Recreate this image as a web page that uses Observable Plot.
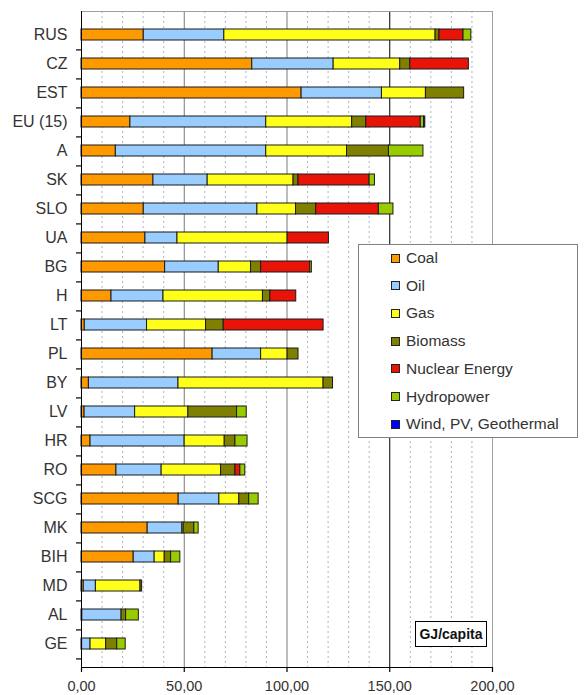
<!DOCTYPE html>
<html><head><meta charset="utf-8">
<script src="https://cdn.jsdelivr.net/npm/d3@7"></script>
<script src="https://cdn.jsdelivr.net/npm/@observablehq/plot@0.6"></script>
<style>
body{margin:0;background:#fff;font-family:"Liberation Sans",Arial,sans-serif;}
#wrap{position:relative;width:585px;height:695px;overflow:hidden;}
#legend{position:absolute;left:358px;top:244px;width:220px;height:194px;border:1px solid #808080;background:#fff;box-sizing:border-box;}
.sw{position:absolute;left:32px;width:9px;height:9px;border:1px solid #222;box-sizing:border-box;}
.lt{position:absolute;left:47px;font-size:15.5px;color:#333;line-height:18px;white-space:nowrap;}
#unit{position:absolute;left:415px;top:621px;width:72px;height:26px;border:1px solid #000;background:#fff;box-sizing:border-box;font-weight:bold;font-size:14px;color:#111;text-align:center;line-height:24px;}
</style></head>
<body><div id="wrap"></div>
<script>
const countries = ["RUS","CZ","EST","EU (15)","A","SK","SLO","UA","BG","H","LT","PL","BY","LV","HR","RO","SCG","MK","BIH","MD","AL","GE"];
const sources = ["Coal","Oil","Gas","Biomass","Nuclear Energy","Hydropower","Wind, PV, Geothermal"];
const colors = ["#FF9900","#99CCFF","#FFFF1A","#808000","#E81408","#99CC00","#0000FF"];
const coal    = [30.3, 83.1, 107.1, 23.8, 16.7, 35.0, 30.3, 31.1, 40.7, 14.6, 1.6, 63.8, 3.6, 1.5, 4.4, 17.0, 47.3, 32.2, 25.4, 1.1, 0.4, 0.3];
const oil     = [39.2, 39.6, 39.1, 66.1, 73.2, 26.4, 55.3, 15.6, 26.1, 25.3, 30.3, 23.6, 43.6, 24.6, 45.8, 22.0, 19.8, 16.9, 10.2, 5.9, 19.1, 4.1];
const gas     = [102.8, 32.4, 21.4, 41.8, 39.3, 41.8, 18.8, 53.6, 15.7, 48.4, 28.7, 12.9, 70.6, 25.9, 19.5, 28.9, 9.7, 0.6, 4.9, 21.7, 0, 7.6];
const biomass = [1.9, 4.9, 18.6, 6.9, 20.4, 2.4, 9.8, 0, 4.9, 3.6, 8.6, 5.3, 4.6, 23.7, 5.2, 7.0, 4.8, 5.2, 3.1, 0.8, 2.2, 5.4];
const nuclear = [11.7, 28.5, 0, 26.5, 0, 34.6, 30.5, 20.1, 23.9, 12.6, 48.6, 0, 0, 0, 0, 2.4, 0, 0, 0, 0, 0, 0];
const hydro   = [3.8, 0, 0, 1.6, 16.8, 2.6, 7.1, 0, 0.8, 0, 0, 0, 0, 4.7, 5.9, 2.4, 4.6, 2.1, 4.5, 0, 6.2, 4.1];
const wind    = [0, 0, 0, 0.6, 0, 0, 0, 0, 0, 0, 0, 0, 0, 0, 0, 0, 0, 0, 0, 0, 0, 0];
const xTicks = [0, 50, 100, 150, 200];
const minorTicks = [10,20,30,40,60,70,80,90,110,120,130,140,160,170,180,190];
const unitLabel = "GJ/capita";

const series = [coal, oil, gas, biomass, nuclear, hydro, wind];
const rows = [];
countries.forEach((c, i) => {
  series.forEach((s, j) => { if (s[i] > 0) rows.push({country: c, source: sources[j], value: s[i]}); });
});

const W = 585, H = 695, mL = 81, mR = 93, mT = 11, mB = 28;
const step = (H - mT - mB) / countries.length;
const tickLen = 5 * 200 / (W - mL - mR); // 5px expressed in x units

const chart = Plot.plot({
  width: W, height: H, marginLeft: mL, marginRight: mR, marginTop: mT, marginBottom: mB,
  style: {fontFamily: "Liberation Sans, Arial, sans-serif", color: "#333", background: "#fff", overflow: "visible"},
  x: {domain: [0, 200]},
  y: {domain: countries, paddingInner: 0.63, paddingOuter: 0.315},
  color: {domain: sources, range: colors},
  marks: [
    Plot.ruleX(minorTicks, {stroke: "#aab4be", strokeDasharray: "2,3"}),
    Plot.ruleX([50, 100], {stroke: "#7a7a7a"}),
    Plot.ruleX([150], {stroke: "#000"}),
    Plot.ruleX([200], {stroke: "#a0a0a0"}),
    Plot.frame({anchor: "top", stroke: "#a0a0a0"}),
    Plot.barX(rows, {x: "value", y: "country", fill: "source", stroke: "#1a1a1a", strokeWidth: 1}),
    Plot.ruleY(countries, {y: d => d, x1: -tickLen, x2: 0, dy: step / 2, stroke: "#000", strokeWidth: 1.2, clip: false}),
    Plot.ruleX([0], {stroke: "#000"}),
    Plot.frame({anchor: "bottom", stroke: "#000"}),
    Plot.axisX({ticks: xTicks, tickFormat: d => d.toFixed(2).replace(".", ","), tickSize: 5, tickPadding: 8, fontSize: 14.5, label: null, stroke: "#000", strokeWidth: 1.2, fill: "#333"}),
    Plot.axisY({tickSize: 0, tickPadding: 14, fontSize: 16, fill: "#333", label: null})
  ]
});

const wrap = document.getElementById("wrap");
wrap.appendChild(chart);

const legend = document.createElement("div");
legend.id = "legend";
sources.forEach((s, i) => {
  const cy = 13 + 27.7 * i;
  const sw = document.createElement("div");
  sw.className = "sw"; sw.style.top = (cy - 4.5) + "px"; sw.style.background = colors[i];
  const t = document.createElement("div");
  t.className = "lt"; t.style.top = (cy - 9) + "px"; t.textContent = s;
  legend.appendChild(sw); legend.appendChild(t);
});
wrap.appendChild(legend);

const unit = document.createElement("div");
unit.id = "unit"; unit.textContent = unitLabel;
wrap.appendChild(unit);
</script>
</body></html>
